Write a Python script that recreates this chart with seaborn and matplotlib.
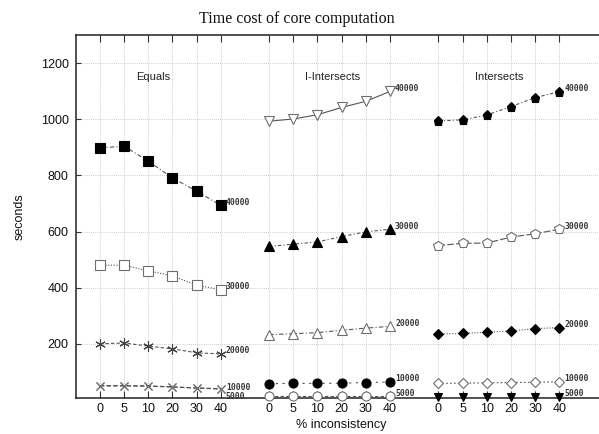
import matplotlib
matplotlib.use("Agg")
import matplotlib.pyplot as plt
import seaborn as sns
import numpy as np
import pandas as pd

# ---------------- data ----------------
pct_labels = ["0", "5", "10", "20", "30", "40"]
groups = ["Equals", "I-Intersects", "Intersects"]

equals_40000 = [898, 904, 851, 791, 744, 693]
equals_30000 = [480, 480, 460, 442, 409, 393]
equals_20000 = [200, 203, 192, 182, 168, 164]
equals_10000 = [51, 51, 50, 47, 43, 40]
equals_5000 = [50, 50, 49, 46, 42, 39]

iint_40000 = [993, 1001, 1016, 1042, 1064, 1099]
iint_30000 = [547, 555, 563, 582, 599, 608]
iint_20000 = [233, 236, 240, 248, 256, 262]
iint_10000 = [58, 59, 59, 60, 62, 64]
iint_5000 = [14, 14, 14, 14, 14, 14]

int_40000 = [994, 998, 1015, 1045, 1077, 1098]
int_30000 = [550, 558, 559, 580, 592, 608]
int_20000 = [235, 237, 241, 246, 254, 258]
int_10000 = [59, 60, 61, 62, 63, 65]
int_5000 = [12, 12, 12, 12, 12, 12]

series = {
    "Equals": {"40000": equals_40000, "30000": equals_30000, "20000": equals_20000,
               "10000": equals_10000, "5000": equals_5000},
    "I-Intersects": {"40000": iint_40000, "30000": iint_30000, "20000": iint_20000,
                     "10000": iint_10000, "5000": iint_5000},
    "Intersects": {"40000": int_40000, "30000": int_30000, "20000": int_20000,
                   "10000": int_10000, "5000": int_5000},
}

# ---------------- styles ----------------
GRAY = "#6e6e6e"
styles = {
    ("Equals", "40000"): dict(marker="s", mfc="black", mec="black", ls=(0, (4, 2, 1, 2)), ms=6.5),
    ("Equals", "30000"): dict(marker="s", mfc="white", mec=GRAY, ls=(0, (1, 1.5)), ms=6.5),
    ("Equals", "20000"): dict(marker=(6, 2, 0), mfc=GRAY, mec="#444444", ls=(0, (3, 2)), ms=7.5),
    ("Equals", "10000"): dict(marker="x", mfc=GRAY, mec=GRAY, ls=(0, (4, 2)), ms=6.0),
    ("Equals", "5000"): dict(marker="x", mfc=GRAY, mec=GRAY, ls=(0, (4, 2)), ms=6.0),
    ("I-Intersects", "40000"): dict(marker="v", mfc="white", mec=GRAY, ls="-", ms=7.0),
    ("I-Intersects", "30000"): dict(marker="^", mfc="black", mec="black", ls=(0, (3, 2, 1, 2)), ms=6.5),
    ("I-Intersects", "20000"): dict(marker="^", mfc="white", mec=GRAY, ls=(0, (4, 2, 1, 2)), ms=7.0),
    ("I-Intersects", "10000"): dict(marker="o", mfc="black", mec="black", ls=(0, (2, 4)), ms=6.5),
    ("I-Intersects", "5000"): dict(marker="o", mfc="white", mec=GRAY, ls=(0, (3, 2)), ms=6.5),
    ("Intersects", "40000"): dict(marker="p", mfc="black", mec="black", ls=(0, (3, 2, 1, 2)), ms=6.5),
    ("Intersects", "30000"): dict(marker="p", mfc="white", mec=GRAY, ls=(0, (6, 2)), ms=7.0),
    ("Intersects", "20000"): dict(marker="D", mfc="black", mec="black", ls=(0, (1, 1.5)), ms=5.0),
    ("Intersects", "10000"): dict(marker="D", mfc="white", mec=GRAY, ls=(0, (1.5, 2)), ms=5.0),
    ("Intersects", "5000"): dict(marker="v", mfc="black", mec="black", ls=(0, (4, 2)), ms=6.0),
}
label_dy = {("Equals", "10000"): 1, ("Equals", "5000"): -7}

# ---------------- figure ----------------
sns.set_style("white")
plt.rcParams["font.family"] = ["Liberation Sans", "DejaVu Sans"]

fig = plt.figure(figsize=(5.99, 4.34), dpi=100)
ax = fig.add_axes([0.1264, 0.0836, 0.888, 0.8357])

group_gap = 7
xticks, xticklabels = [], []
for gi, g in enumerate(groups):
    xs = np.arange(len(pct_labels)) + gi * group_gap
    xticks.extend(xs)
    xticklabels.extend(pct_labels)
    for size, vals in series[g].items():
        st = styles[(g, size)]
        df = pd.DataFrame({"x": xs, "y": vals})
        sns.lineplot(data=df, x="x", y="y", ax=ax, sort=False, errorbar=None,
                     color="#555555", linewidth=0.8, linestyle=st["ls"],
                     marker=st["marker"], markersize=st["ms"],
                     markerfacecolor=st["mfc"], markeredgecolor=st["mec"],
                     markeredgewidth=0.8, clip_on=False, zorder=3)
        dy = label_dy.get((g, size), 3)
        ax.annotate(size, xy=(xs[-1], vals[-1]), xytext=(5, dy),
                    textcoords="offset pixels", fontsize=5.8,
                    family="DejaVu Sans Mono", fontweight="bold",
                    color="#333333", va="center", ha="left", annotation_clip=False)
    ax.text(gi * group_gap + 1.5, 1150, g, fontsize=8, ha="left", va="center",
            color="#222222")

ax.set_xlim(-1, 21)
ax.set_ylim(8, 1300)
ax.set_xticks(xticks)
ax.set_xticklabels(xticklabels, fontsize=9)
ax.set_yticks([200, 400, 600, 800, 1000, 1200])
ax.set_yticklabels(["200", "400", "600", "800", "1000", "1200"], fontsize=9)

ax.grid(True, which="major", linestyle=(0, (1, 1.5)), color="#bdbdbd", linewidth=0.6)
ax.set_axisbelow(True)

for s in ["left", "bottom", "top"]:
    ax.spines[s].set_visible(True)
    ax.spines[s].set_color("#222222")
    ax.spines[s].set_linewidth(1.1)
ax.spines["right"].set_visible(False)

ax.tick_params(axis="x", direction="in", top=True, bottom=True, length=5,
               width=0.8, color="#333333", pad=4, labelcolor="#111111")
ax.tick_params(axis="y", direction="in", left=True, length=3.5, width=0.8,
               color="#333333", pad=5, labelcolor="#111111")

ax.set_xlabel("% inconsistency", fontsize=9, labelpad=3, color="#111111")
ax.set_ylabel("seconds", fontsize=9, labelpad=11, color="#111111")

fig.suptitle("Time cost of core computation", x=0.495, y=0.975,
             fontsize=11.5, family="Liberation Serif", color="#111111")

fig.savefig("out.png", dpi=100)
